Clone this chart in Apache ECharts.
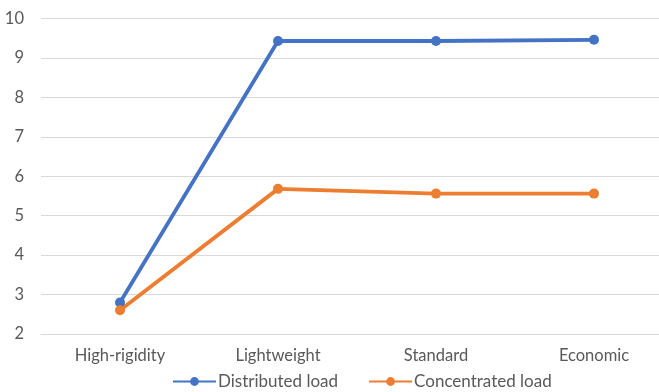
<!DOCTYPE html>
<html>
<head>
<meta charset="utf-8">
<script src="https://cdn.jsdelivr.net/npm/echarts@6/dist/echarts.min.js"></script>
<style>
  html, body { margin: 0; padding: 0; background: #fff; }
  #chart { width: 659px; height: 392px; }
</style>
</head>
<body>
<div id="chart"></div>
<script>
// Structure types on the x axis
const categories = ['High-rigidity', 'Lightweight', 'Standard', 'Economic'];
// Values for each load case
const distributedLoad = [2.8, 9.43, 9.43, 9.46];
const concentratedLoad = [2.6, 5.68, 5.56, 5.56];
// Value axis range
const yMin = 2;
const yMax = 10;
const yStep = 1;

const font = 'Lato, "Open Sans", sans-serif';
const chart = echarts.init(document.getElementById('chart'));

function lineSeries(name, data, color) {
  return {
    name: name,
    type: 'line',
    data: data,
    symbol: 'circle',
    symbolSize: 10,
    lineStyle: { width: 3.8, color: color },
    itemStyle: { color: color },
    emphasis: { disabled: true }
  };
}

chart.setOption({
  animation: false,
  textStyle: { fontFamily: font },
  // plot area runs slightly past the right edge of the canvas
  grid: { left: 41, width: 632, top: 18.5, bottom: 58, outerBoundsMode: 'none' },
  legend: {
    top: 373,
    left: 172,
    padding: 0,
    itemWidth: 43,
    itemHeight: 11,
    itemGap: 30,
    textStyle: { color: '#595959', fontSize: 17, fontFamily: font, padding: [0, 0, 0, -3] },
    data: ['Distributed load', 'Concentrated load']
  },
  xAxis: {
    type: 'category',
    data: categories,
    boundaryGap: true,
    axisLine: { show: true, lineStyle: { color: '#D9D9D9', width: 1 } },
    axisTick: { show: false },
    axisLabel: { color: '#595959', fontSize: 16.5, margin: 13, fontFamily: font }
  },
  yAxis: {
    type: 'value',
    min: yMin,
    max: yMax,
    interval: yStep,
    axisLine: { show: false },
    axisTick: { show: false },
    splitLine: { lineStyle: { color: '#D9D9D9', width: 1 } },
    axisLabel: { color: '#595959', fontSize: 16.5, margin: 17, fontFamily: font }
  },
  series: [
    lineSeries('Distributed load', distributedLoad, '#4472C4'),
    lineSeries('Concentrated load', concentratedLoad, '#ED7D31')
  ]
});
</script>
</body>
</html>
